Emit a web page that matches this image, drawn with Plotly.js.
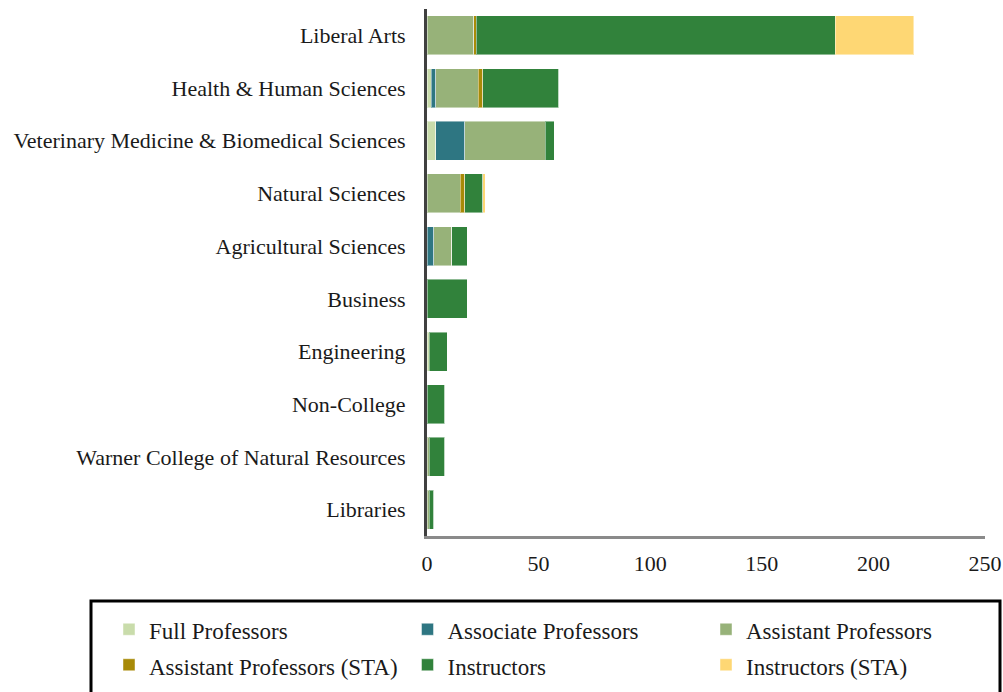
<!DOCTYPE html>
<html>
<head>
<meta charset="utf-8">
<script src="https://cdn.plot.ly/plotly-3.0.1.min.js"></script>
<style>html,body{margin:0;padding:0;background:#fff;}#chart{width:1003px;height:692px;}</style>
</head>
<body>
<div id="chart"></div>
<script>
const categories = ["Liberal Arts", "Health & Human Sciences", "Veterinary Medicine & Biomedical Sciences", "Natural Sciences", "Agricultural Sciences", "Business", "Engineering", "Non-College", "Warner College of Natural Resources", "Libraries"];
const seriesNames = ["Full Professors", "Associate Professors", "Assistant Professors", "Assistant Professors (STA)", "Instructors", "Instructors (STA)"];
const fullProfessors = [0, 2, 4, 0, 0, 0, 1, 0, 0, 0];
const associateProfessors = [0, 2, 13, 0, 3, 0, 0, 0, 0, 0];
const assistantProfessors = [21, 19, 36, 15, 8, 0, 0, 0, 1, 1];
const assistantProfessorsSTA = [1, 2, 0, 2, 0, 0, 0, 0, 0, 0];
const instructors = [161, 34, 4, 8, 7, 18, 8, 8, 7, 2];
const instructorsSTA = [35, 0, 0, 1, 0, 0, 0, 0, 0, 0];
const colors = ["#c9dcab", "#2e7682", "#97b279", "#a88a07", "#31823b", "#fed774"];
const xTicks = [0, 50, 100, 150, 200, 250];

const seriesValues = [fullProfessors, associateProfessors, assistantProfessors, assistantProfessorsSTA, instructors, instructorsSTA];
const FONT = "Liberation Serif, Times New Roman, serif";

const traces = seriesValues.map((vals, i) => ({
  type: "bar",
  orientation: "h",
  name: '<span style="font-size:23px">' + seriesNames[i] + '</span>',
  y: categories,
  x: vals,
  marker: {color: colors[i], line: {color: "rgba(255,255,255,0.45)", width: 1}},
  hoverinfo: "x+y"
}));

const layout = {
  width: 1003,
  height: 692,
  barmode: "stack",
  bargap: 0.26,
  paper_bgcolor: "#ffffff",
  plot_bgcolor: "#ffffff",
  margin: {l: 427, r: 18, t: 9, b: 156, pad: 0, autoexpand: false},
  font: {family: FONT, size: 22, color: "#1a1a1a"},
  xaxis: {
    range: [0, 250],
    tickvals: xTicks,
    ticktext: xTicks.map(String),
    showgrid: false,
    zeroline: false,
    showline: true,
    linecolor: "#8a8a8a",
    linewidth: 3,
    ticks: "",
    ticklabelstandoff: 6,
    tickfont: {family: FONT, size: 22, color: "#1a1a1a"},
    fixedrange: true
  },
  yaxis: {
    type: "category",
    categoryorder: "array",
    categoryarray: categories,
    autorange: "reversed",
    showgrid: false,
    zeroline: false,
    showline: true,
    linecolor: "#404040",
    linewidth: 3,
    ticks: "",
    ticklabelstandoff: 14,
    tickfont: {family: FONT, size: 22, color: "#1a1a1a"},
    fixedrange: true
  },
  showlegend: true,
  legend: {
    orientation: "h",
    x: (109 - 427) / 558,
    xanchor: "left",
    y: (536 - 606.5) / 527,
    yanchor: "top",
    entrywidth: 253.5,
    entrywidthmode: "pixels",
    traceorder: "normal",
    borderwidth: 0,
    bgcolor: "rgba(0,0,0,0)",
    font: {family: FONT, size: 25, color: "#1a1a1a"}
  },
  shapes: [{
    type: "rect",
    xref: "paper", yref: "paper",
    x0: (91 - 427) / 558, x1: (1000 - 427) / 558,
    y0: (536 - 601) / 527, y1: (536 - 694) / 527,
    line: {color: "#000000", width: 3},
    fillcolor: "rgba(0,0,0,0)"
  }]
};

Plotly.newPlot("chart", traces, layout, {displayModeBar: false, staticPlot: true});
</script>
</body>
</html>
